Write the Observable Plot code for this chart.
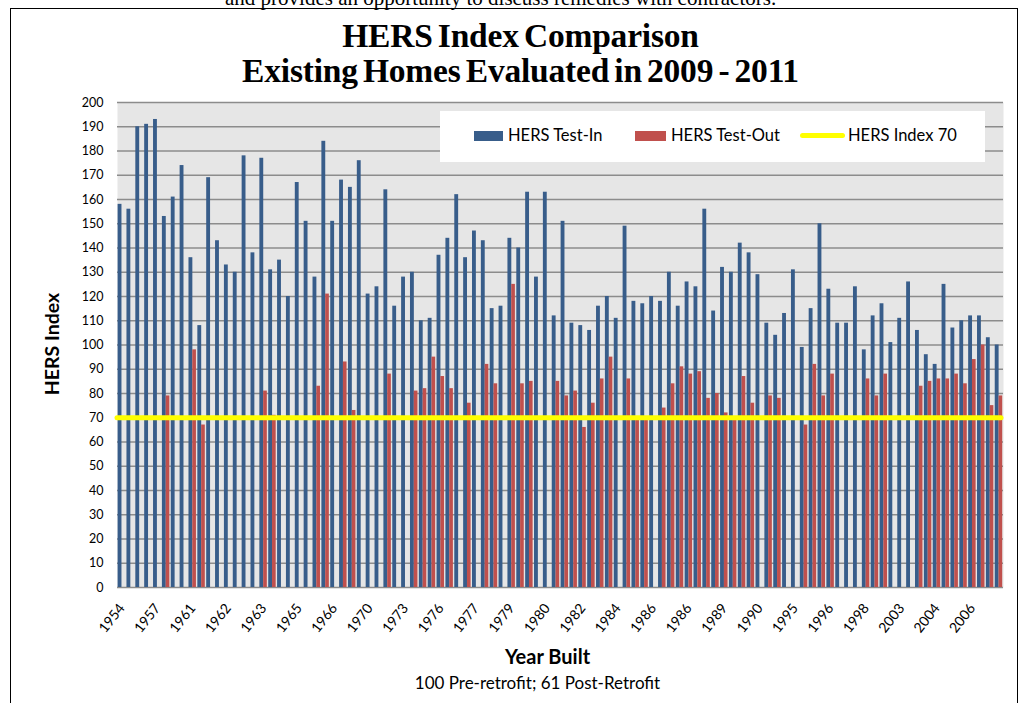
<!DOCTYPE html>
<html>
<head>
<meta charset="utf-8">
<script src="https://cdn.jsdelivr.net/npm/d3@7"></script>
<script src="https://cdn.jsdelivr.net/npm/@observablehq/plot@0.6"></script>
<style>
  html, body { margin: 0; padding: 0; background: #fff; }
  #wrap { position: relative; width: 1019px; height: 703px; overflow: hidden; background: #fff; }
  .abs { position: absolute; white-space: nowrap; }
  .serif { font-family: "Liberation Serif", "Times New Roman", serif; }
  .sans { font-family: Lato, "Open Sans", sans-serif; color: #000; }
  .title { font-weight: bold; font-size: 33.5px; line-height: 33.5px; left: 0; width: 1041px; text-align: center; letter-spacing: -0.2px; word-spacing: -3px; }
</style>
</head>
<body>
<div id="wrap">
  <div class="abs serif" style="left:225px; top:-12px; font-size:21px; line-height:21px;">and provides an opportunity to discuss remedies with contractors.</div>
  <div class="abs" style="left:10px; top:8px; width:1006px; height:720px; border:1px solid #000;"></div>
  <div id="chart" class="abs" style="left:0; top:0;"></div>
  <div class="abs serif title" style="top:19px;">HERS Index Comparison</div>
  <div class="abs serif title" style="top:54px;">Existing Homes Evaluated in 2009 - 2011</div>
  <div class="abs sans" style="left:52px; top:344px; transform: translate(-50%,-50%) rotate(-90deg); font-weight:bold; font-size:19.5px; line-height:20px;">HERS Index</div>
  <div class="abs sans" style="left:0; width:1095px; text-align:center; top:646px; font-weight:bold; font-size:20px; line-height:20px;">Year Built</div>
  <div class="abs sans" style="left:0; width:1075px; text-align:center; top:674px; font-size:17px; line-height:17px;">100 Pre-retrofit; 61 Post-Retrofit</div>
  <div id="legend" class="abs" style="left:440px; top:111px; width:545px; height:51px; background:#fff;">
    <div class="abs" style="left:34px; top:20px; width:29px; height:10px; background:#385d8a;"></div>
    <div class="abs sans" style="left:68px; top:16px; font-size:16.5px; line-height:16.5px;">HERS Test-In</div>
    <div class="abs" style="left:195px; top:20px; width:31px; height:10px; background:#c0504d;"></div>
    <div class="abs sans" style="left:231px; top:16px; font-size:16.5px; line-height:16.5px;">HERS Test-Out</div>
    <div class="abs" style="left:360px; top:22px; width:45px; height:5px; background:#ffff00; border-radius:3px;"></div>
    <div class="abs sans" style="left:408px; top:16px; font-size:16.5px; line-height:16.5px;">HERS Index 70</div>
  </div>
</div>
<script>
// ---- data ----
const tickLabels = ["1954","1957","1961","1962","1963","1965","1966","1970","1973","1976","1977","1979","1980","1982","1984","1986","1986","1989","1990","1995","1996","1998","2003","2004","2006"];

const testIn = [
  158,156,190,191,193,153,161,174,136,108,
  169,143,133,130,178,138,177,131,135,120,
  167,151,128,184,151,168,165,176,121,124,
  164,116,128,130,110,111,137,144,162,136,
  147,143,115,116,144,140,163,128,163,112,
  151,109,108,106,116,120,111,149,118,117,
  120,118,130,116,126,124,156,114,132,130,
  142,138,129,109,104,113,131,99,115,150,
  123,109,109,124,98,112,117,101,111,126,
  106,96,92,125,107,110,112,112,103,100
];

const testOut = [
  null,null,null,null,null,79,null,null,98,67,
  null,null,null,null,null,null,81,71,null,null,
  null,null,83,121,null,93,73,null,null,null,
  88,null,null,81,82,95,87,82,null,76,
  null,92,84,null,125,84,85,null,null,85,
  79,81,66,76,86,95,null,86,70,70,
  null,74,84,91,88,89,78,80,72,70,
  87,76,null,79,78,null,null,67,92,79,
  88,null,null,null,86,79,88,null,null,null,
  83,85,86,86,88,84,94,100,75,79
];

const targetIndex = [70];
const yTicks = d3.range(0, 201, 10);

// ---- tables ----
const idx = d3.range(testIn.length);
const inRows = idx.map(i => ({i, v: testIn[i]}));
const outRows = idx.filter(i => testOut[i] != null).map(i => ({i, v: testOut[i]}));

const chart = Plot.plot({
  width: 1019,
  height: 703,
  marginTop: 102,
  marginBottom: 116,
  marginLeft: 117,
  marginRight: 16,
  style: {fontFamily: "Lato, 'Open Sans', sans-serif", background: "transparent", color: "#000"},
  x: {type: "band", domain: idx, paddingInner: 0, paddingOuter: 0},
  y: {domain: [0, 200]},
  marks: [
    Plot.frame({fill: "#e6e6e6", stroke: null}),
    Plot.ruleY(yTicks, {stroke: "#8c8c8c", strokeWidth: 1.4}),
    Plot.barY(inRows, {x: "i", y: "v", fill: "#385d8a", insetLeft: 0.6, insetRight: 4.4}),
    Plot.barY(outRows, {x: "i", y: "v", fill: "#c0504d", insetLeft: 4.4, insetRight: 0.8}),
    Plot.ruleY(targetIndex, {stroke: "#ffff00", strokeWidth: 5, strokeLinecap: "round", insetRight: 2}),
    Plot.axisY({ticks: yTicks, tickSize: 0, tickPadding: 14, fontSize: 12.5, label: null}),
    Plot.axisX({ticks: d3.range(0, 100, 4), tickFormat: i => tickLabels[i / 4], tickRotate: -52, tickSize: 0, tickPadding: 18, fontSize: 14, label: null})
  ]
});
document.getElementById("chart").appendChild(chart);
</script>
</body>
</html>
